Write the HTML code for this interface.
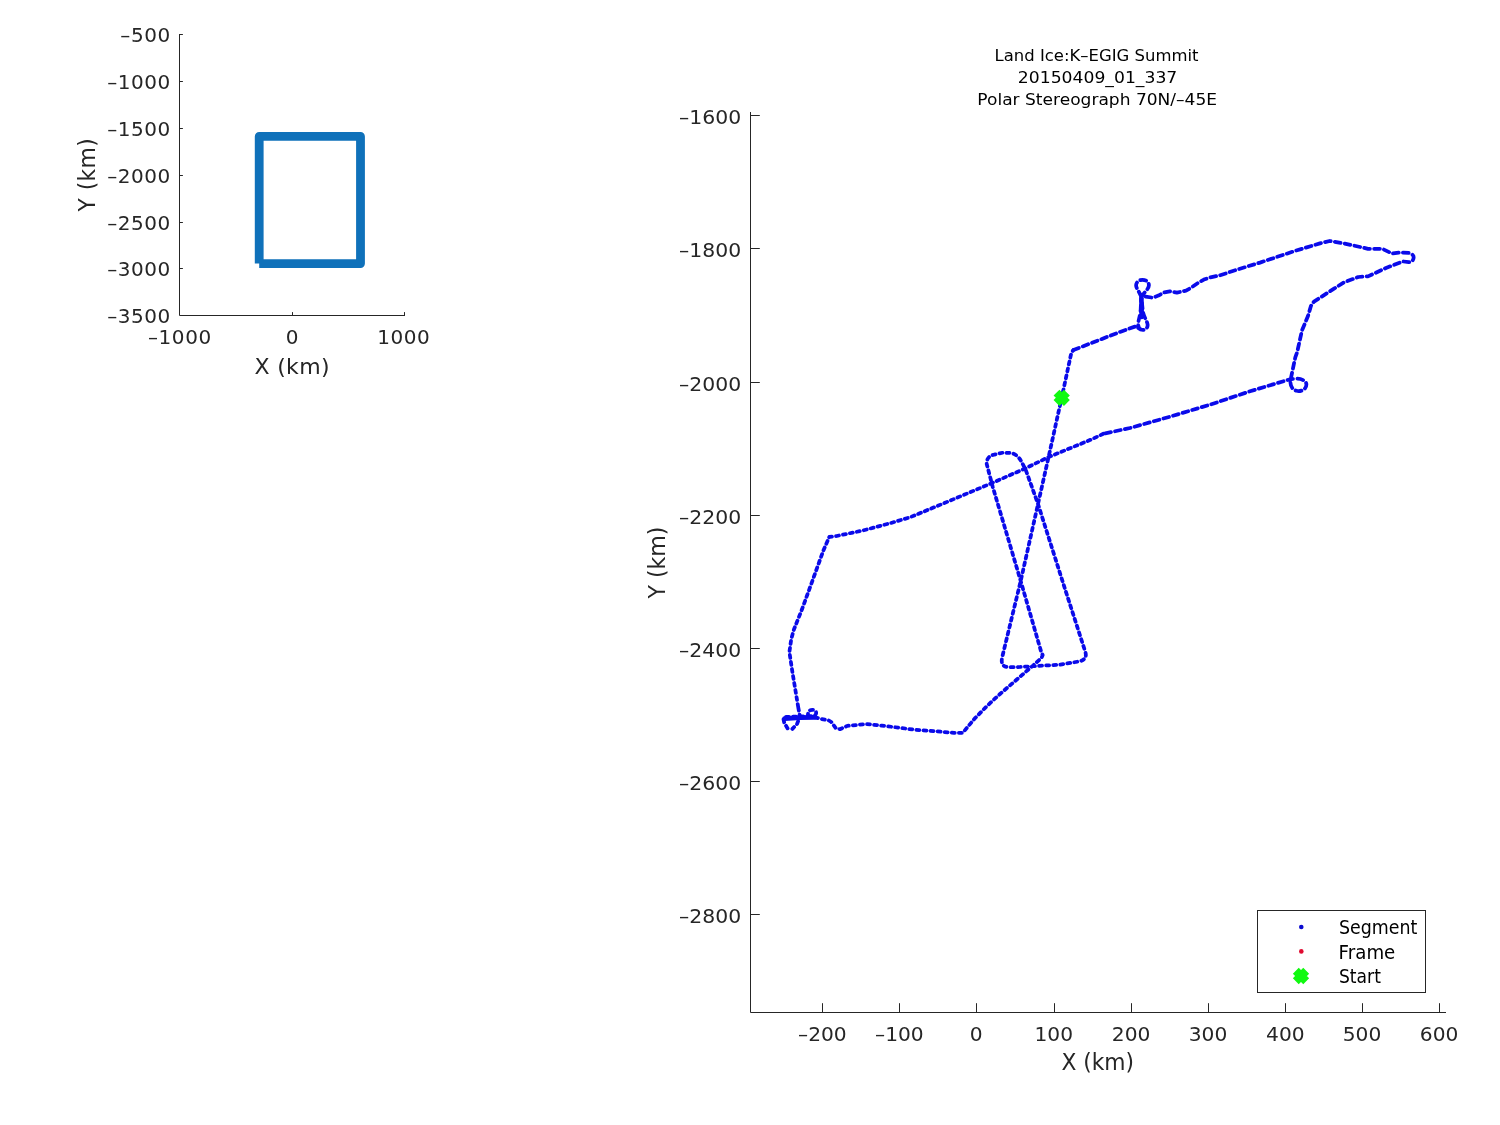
<!DOCTYPE html>
<html lang="en"><head><meta charset="utf-8"><title>Land Ice:K-EGIG Summit 20150409_01_337</title>
<style>html,body{margin:0;padding:0;background:#fff;}body{width:1500px;height:1125px;overflow:hidden;}svg{display:block;}text{font-family:"DejaVu Sans","Liberation Sans",sans-serif;fill:#262626;}.ax{stroke:#262626;stroke-width:1;fill:none;}</style></head><body>
<svg width="1500" height="1125" viewBox="0 0 1500 1125">
<rect width="1500" height="1125" fill="#ffffff"/>
<g id="overview">
<path class="ax" d="M179.5,34.0V315.5H405.0"/>
<path class="ax" d="M179.5,34.5h3.4M179.5,81.5h3.4M179.5,128.5h3.4M179.5,175.5h3.4M179.5,222.5h3.4M179.5,268.5h3.4M292.5,315.5v-3.4M404.5,315.5v-3.4"/>
<text x="120.35" y="42.20" font-size="20" style="letter-spacing:0.55px;">–500</text>
<text x="107.17" y="89.20" font-size="20" style="letter-spacing:0.55px;">–1000</text>
<text x="107.17" y="136.20" font-size="20" style="letter-spacing:0.55px;">–1500</text>
<text x="107.17" y="183.20" font-size="20" style="letter-spacing:0.55px;">–2000</text>
<text x="107.17" y="230.20" font-size="20" style="letter-spacing:0.55px;">–2500</text>
<text x="107.17" y="276.20" font-size="20" style="letter-spacing:0.55px;">–3000</text>
<text x="107.17" y="323.20" font-size="20" style="letter-spacing:0.55px;">–3500</text>
<text x="148.05" y="344.20" font-size="20" style="letter-spacing:0.55px;">–1000</text>
<text x="285.82" y="344.20" font-size="20" style="letter-spacing:0.55px;">0</text>
<text x="377.30" y="344.20" font-size="20" style="letter-spacing:0.55px;">1000</text>
<text x="254.40" y="373.60" font-size="22" style="letter-spacing:0.35px;">X (km)</text>
<text transform="translate(94.90,211.38) rotate(-90) scale(0.9795,1)" font-size="22.3" style="letter-spacing:0.4px;">Y (km)</text>
<path d="M259.2,263.6V136.4H360.5V263.6H259.2" fill="none" stroke="#0f71ba" stroke-width="8.8" stroke-linejoin="round" stroke-linecap="butt"/>
</g>
<g id="main">
<path class="ax" d="M750.5,112.0V1012.5H1446.0"/>
<path class="ax" d="M822.5,1012.5v-9.3M899.5,1012.5v-9.3M976.5,1012.5v-9.3M1054.5,1012.5v-9.3M1131.5,1012.5v-9.3M1208.5,1012.5v-9.3M1285.5,1012.5v-9.3M1362.5,1012.5v-9.3M1439.5,1012.5v-9.3M750.5,115.5h9.3M750.5,248.5h9.3M750.5,382.5h9.3M750.5,515.5h9.3M750.5,648.5h9.3M750.5,781.5h9.3M750.5,914.5h9.3"/>
<text transform="translate(679.05,124.00) scale(1.0100,1)" font-size="20.2">–1600</text>
<text transform="translate(679.05,257.00) scale(1.0100,1)" font-size="20.2">–1800</text>
<text transform="translate(679.05,391.00) scale(1.0100,1)" font-size="20.2">–2000</text>
<text transform="translate(679.05,524.00) scale(1.0100,1)" font-size="20.2">–2200</text>
<text transform="translate(679.05,657.00) scale(1.0100,1)" font-size="20.2">–2400</text>
<text transform="translate(679.05,790.00) scale(1.0100,1)" font-size="20.2">–2600</text>
<text transform="translate(679.05,923.00) scale(1.0100,1)" font-size="20.2">–2800</text>
<text x="798.08" y="1040.90" font-size="20.2">–200</text>
<text x="875.08" y="1040.90" font-size="20.2">–100</text>
<text x="969.76" y="1040.90" font-size="20.2">0</text>
<text x="1034.45" y="1040.90" font-size="20.2">100</text>
<text x="1111.83" y="1040.90" font-size="20.2">200</text>
<text x="1188.76" y="1040.90" font-size="20.2">300</text>
<text x="1266.08" y="1040.90" font-size="20.2">400</text>
<text x="1342.76" y="1040.90" font-size="20.2">500</text>
<text x="1419.83" y="1040.90" font-size="20.2">600</text>
<text transform="translate(1061.40,1069.80) scale(0.9644,1)" font-size="22.6">X (km)</text>
<text transform="translate(664.60,598.58) rotate(-90) scale(0.9778,1)" font-size="22.6">Y (km)</text>
<text transform="translate(994.59,60.70) scale(1.0100,1)" font-size="16.3" style="fill:#000;">Land Ice:K–EGIG Summit</text>
<text transform="translate(1017.81,83.00) scale(1.0563,1)" font-size="16.3" style="fill:#000;">20150409_01_337</text>
<text transform="translate(977.33,104.60) scale(1.0462,1)" font-size="16.3" style="fill:#000;">Polar Stereograph 70N/–45E</text>
<path d="M798.3,707.6L800,716.7L797,724L792.4,728.9M787.6,728.4L784.3,723L783.3,718.3L786,716.9L800,716.6L808,716.2C807.5,711 810,709.9 812.4,709.9C815,709.9 816.5,711.5 816.1,713.5C815.8,715.5 813,716.3 808,716.2M808,716.2L816,717.6L820.7,718.8L828.7,720.4L831.3,722L835.6,727.9L839.9,729.2L847.3,725.9L850,725.6L866,724L882,725.6L914,729.6L954,732.8L962.8,732.8L974.8,718.4L987.6,705.4L1000,694L1033.3,665.3L1041.6,657.8L1042.7,655L1041.3,652.2L1020.7,581L992.7,486.7L986.7,464C986.5,458 990,455.5 994,454.7L1003.3,452.6L1011.3,453.1C1016,454 1019.5,458 1021,461L1025.5,469.2L1038,504L1064.7,588L1084.7,650C1087,656 1086,659 1080,661.3L1060,664.7L1033.3,666.2L1020,667L1009,667.2C1003,667 1001,664 1002,658L1020.7,581L1038,504L1048.7,456.5L1061.7,397.6L1071.3,353.0L1073.4,350.0M1103.3,433.8L1091.3,439.5L1048.7,457.0L1024.7,468.7L991.3,483.3L950,500.7L910,517.3L890,523.3L863.3,530.4L836.7,536L829.3,536.9L823.3,550.7L812.7,580L802,609.3L794,629.3L791.3,638.7L789.4,652L792.4,672L798.3,707.6" fill="none" stroke="#0a0aea" stroke-width="3.75" stroke-linecap="round" stroke-linejoin="round" stroke-dasharray="3 4.1"/>
<path d="M1073.4,350.0L1120,331.9L1136.4,326.1C1138.4,328.6 1140.5,329.9 1142.8,329.9C1146,329.9 1147.9,327.5 1147.6,324.5C1147,320.5 1143.8,317 1142.8,311L1141.3,297L1140.6,311C1139.8,317 1138.2,320.5 1138.2,324.5C1138.2,327.5 1140,329.9 1142.8,329.9M1141.3,297C1139.5,291.5 1136,288.5 1136.1,285.2C1136.3,282 1139.2,279.8 1142.5,279.8C1146.2,279.8 1149,282.2 1148.9,285.4C1148.7,289.5 1144,292 1141.3,297L1144.9,296.5L1152.7,297.7L1158.4,295.6L1164.1,292.4L1169.8,291.3L1176.9,292.7L1186,290.6L1191.1,287.7L1198.2,282.8L1203.9,279.6L1208.9,277.8L1220,275.3L1236,270L1260,262.6L1296,250.6L1320,243.4L1329.6,241L1344,243.4L1368,248.8L1382.4,248.8L1392,253.6L1400.4,252.4L1408.8,253C1412,253.5 1414,255.5 1413.6,258C1413.2,261 1411,262.4 1408.8,262.2L1402.8,261.4L1386,268L1368,276.4L1358.4,277L1344,282.4L1334.4,288.4L1314,301.6L1311,305.8L1308,316L1302,330.4L1297.2,352L1295.3,357.3L1290.8,378.8C1289.5,384 1291.5,389.5 1296.5,390.8C1301.5,392 1306.4,389 1306.4,384.5C1306.4,380.5 1301,378.7 1296.5,378.7C1294,378.7 1292,378.8 1290.2,379.2L1276.7,383.3L1250,391.3L1210,404.7L1170,416.7L1130,428L1103.3,433.8" fill="none" stroke="#0a0aea" stroke-width="3.75" stroke-linecap="round" stroke-linejoin="round" stroke-dasharray="5.8 4.2"/>
<path d="M1141.4,298L1141.7,317M784.6,718.6L800,717.6L815,717.4" stroke="#0a0aea" stroke-width="4.6" stroke-linecap="round" fill="none"/>
<path d="M1056.5,392.6L1066.9,403.0M1056.5,403.0L1066.9,392.6" stroke="#10f910" stroke-width="8.3" stroke-linecap="butt" fill="none"/>
<rect x="1257.5" y="910.5" width="168" height="82" fill="#fff" stroke="#262626" stroke-width="1"/>
<circle cx="1301.3" cy="927" r="2.3" fill="#0a0ad0"/>
<circle cx="1301.3" cy="951.4" r="2.3" fill="#e00a30"/>
<path d="M1295.8,970.8L1306.2,981.2M1295.8,981.2L1306.2,970.8" stroke="#10f910" stroke-width="8.3" stroke-linecap="butt" fill="none"/>
<text transform="translate(1338.96,934.20) scale(0.9275,1)" font-size="18.8" style="fill:#000;">Segment</text>
<text transform="translate(1338.61,958.90) scale(0.9682,1)" font-size="18.8" style="fill:#000;">Frame</text>
<text transform="translate(1338.97,982.90) scale(0.9127,1)" font-size="18.8" style="fill:#000;">Start</text>
</g>
</svg></body></html>
